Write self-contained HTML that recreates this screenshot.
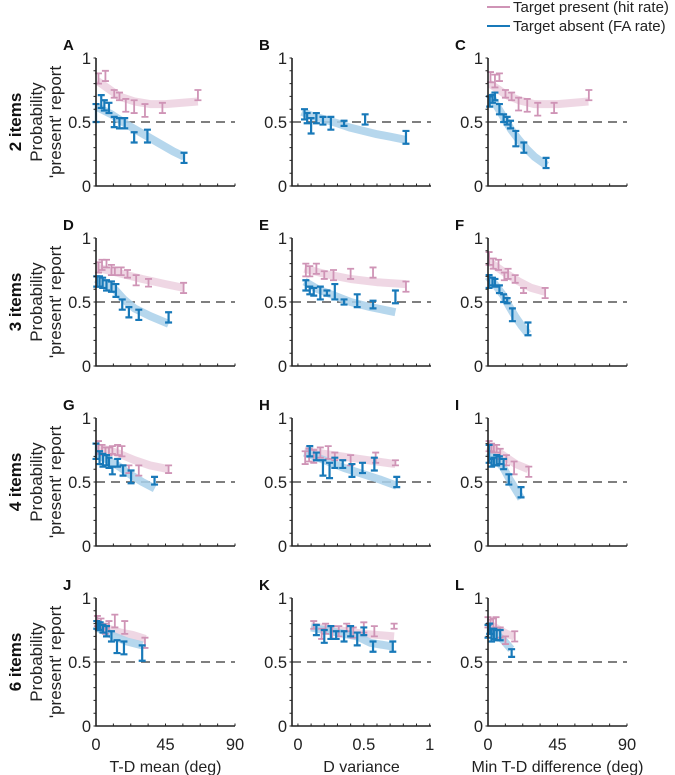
<!DOCTYPE html>
<html><head><meta charset="utf-8">
<style>
body{margin:0;background:#fff;}
svg{display:block;font-family:"Liberation Sans",Arial,sans-serif;}
</style></head>
<body>
<svg id="fig" width="675" height="775" viewBox="0 0 675 775"></svg>
<script>
// ---- data (x, y, error half-widths, fit curves) ----
const A_hit_x=[1.6,6.1,11.8,15.2,19.3,24.7,31.7,43,66];
const A_hit_y=[0.84,0.86,0.72,0.70,0.63,0.62,0.59,0.61,0.71];
const A_hit_e=[0.04,0.04,0.03,0.03,0.05,0.05,0.05,0.04,0.04];
const A_fa_x=[0,3.4,5.4,8.4,11.8,15.2,18.6,24.7,33.3,57];
const A_fa_y=[0.57,0.66,0.63,0.61,0.50,0.49,0.49,0.38,0.39,0.22];
const A_fa_e=[0.07,0.05,0.04,0.04,0.04,0.04,0.04,0.04,0.05,0.04];
const A_hitfit_x=[1,8,15,25,35,45,66];
const A_hitfit_y=[0.82,0.76,0.70,0.66,0.64,0.64,0.66];
const A_fafit_x=[0,10,20,30,40,50,57];
const A_fafit_y=[0.62,0.56,0.48,0.41,0.34,0.27,0.23];

const B_fa_x=[0.05,0.07,0.10,0.14,0.19,0.25,0.35,0.51,0.82];
const B_fa_y=[0.56,0.53,0.47,0.53,0.51,0.49,0.49,0.52,0.38];
const B_fa_e=[0.04,0.04,0.06,0.04,0.03,0.05,0.02,0.04,0.05];
const B_fafit_x=[0.03,0.1,0.2,0.3,0.4,0.5,0.6,0.7,0.82];
const B_fafit_y=[0.58,0.55,0.52,0.49,0.455,0.43,0.405,0.385,0.36];

const C_hit_x=[1.6,4.5,7.4,11.3,15.3,19.8,25.4,32.2,42.8,65.3];
const C_hit_y=[0.85,0.82,0.85,0.72,0.70,0.64,0.63,0.60,0.61,0.71];
const C_hit_e=[0.04,0.05,0.03,0.03,0.03,0.05,0.05,0.05,0.04,0.04];
const C_fa_x=[1.1,2.9,4.5,7.4,10.1,12.4,14.6,18,23.2,37.6];
const C_fa_y=[0.66,0.68,0.70,0.60,0.53,0.51,0.48,0.37,0.30,0.18];
const C_fa_e=[0.04,0.03,0.03,0.04,0.03,0.03,0.03,0.06,0.04,0.04];
const C_hitfit_x=[1,6,12,20,30,45,65];
const C_hitfit_y=[0.80,0.76,0.71,0.67,0.64,0.64,0.66];
const C_fafit_x=[1,5,10,15,20,25,30,38];
const C_fafit_y=[0.72,0.64,0.54,0.44,0.36,0.29,0.23,0.16];

const D_hit_x=[1.6,3.9,6.8,10,12.2,16.3,20.4,26,34,56.7];
const D_hit_y=[0.77,0.79,0.80,0.75,0.74,0.74,0.72,0.67,0.65,0.61];
const D_hit_e=[0.04,0.04,0.03,0.04,0.03,0.03,0.03,0.04,0.03,0.04];
const D_fa_x=[0.5,2.3,4.3,6.8,10,12.9,17,21.3,27.7,47];
const D_fa_y=[0.66,0.66,0.65,0.63,0.62,0.59,0.48,0.42,0.40,0.38];
const D_fa_e=[0.04,0.04,0.04,0.04,0.04,0.05,0.04,0.04,0.04,0.04];
const D_hitfit_x=[0,10,20,30,45,57];
const D_hitfit_y=[0.77,0.74,0.71,0.68,0.64,0.61];
const D_fafit_x=[0,6,12,18,25,35,47];
const D_fafit_y=[0.68,0.64,0.60,0.52,0.45,0.39,0.33];

const E_hit_x=[0.06,0.09,0.14,0.20,0.27,0.40,0.57,0.82];
const E_hit_y=[0.75,0.74,0.76,0.71,0.71,0.72,0.73,0.62];
const E_hit_e=[0.05,0.04,0.04,0.03,0.04,0.04,0.04,0.04];
const E_fa_x=[0.06,0.09,0.12,0.17,0.22,0.28,0.35,0.45,0.57,0.74];
const E_fa_y=[0.63,0.59,0.58,0.57,0.57,0.58,0.50,0.51,0.48,0.54];
const E_fa_e=[0.04,0.03,0.03,0.05,0.02,0.06,0.02,0.05,0.03,0.05];
const E_hitfit_x=[0.05,0.2,0.4,0.6,0.82];
const E_hitfit_y=[0.76,0.72,0.68,0.655,0.64];
const E_fafit_x=[0.05,0.15,0.25,0.4,0.55,0.74];
const E_fafit_y=[0.66,0.60,0.56,0.50,0.46,0.42];

const F_hit_x=[0.7,3.4,6.8,10.6,13,17.6,23,37];
const F_hit_y=[0.84,0.80,0.79,0.70,0.72,0.68,0.59,0.57];
const F_hit_e=[0.05,0.04,0.04,0.03,0.04,0.03,0.02,0.04];
const F_fa_x=[0.7,2.9,4.5,7.4,10.1,12.4,15.8,25.9];
const F_fa_y=[0.66,0.66,0.65,0.60,0.53,0.51,0.40,0.29];
const F_fa_e=[0.05,0.03,0.03,0.03,0.03,0.02,0.05,0.05];
const F_hitfit_x=[0,6,12,20,28,37];
const F_hitfit_y=[0.82,0.77,0.72,0.66,0.61,0.58];
const F_fafit_x=[0,5,10,14,18,22,26];
const F_fafit_y=[0.70,0.63,0.55,0.46,0.38,0.31,0.25];

const G_hit_x=[1.6,3.9,6.1,8.4,10.6,14,16.8,21.3,27.7,47];
const G_hit_y=[0.77,0.75,0.74,0.74,0.75,0.75,0.74,0.60,0.59,0.60];
const G_hit_e=[0.05,0.04,0.03,0.03,0.03,0.04,0.04,0.03,0.04,0.03];
const G_fa_x=[0,2.3,4.5,6.8,8.4,10.6,14,17.5,22.7,37.9];
const G_fa_y=[0.74,0.69,0.67,0.67,0.65,0.59,0.65,0.59,0.54,0.51];
const G_fa_e=[0.06,0.05,0.05,0.04,0.04,0.03,0.03,0.04,0.05,0.03];
const G_hitfit_x=[0,8,15,25,35,47];
const G_hitfit_y=[0.77,0.75,0.72,0.67,0.63,0.60];
const G_fafit_x=[0,8,15,22,30,38];
const G_fafit_y=[0.72,0.67,0.62,0.56,0.50,0.45];

const H_hit_x=[0.055,0.085,0.12,0.17,0.23,0.28,0.40,0.59,0.74];
const H_hit_y=[0.69,0.71,0.70,0.73,0.73,0.70,0.67,0.69,0.65];
const H_hit_e=[0.05,0.05,0.05,0.04,0.05,0.03,0.04,0.04,0.02];
const H_fa_x=[0.09,0.14,0.19,0.24,0.28,0.34,0.41,0.49,0.58,0.75];
const H_fa_y=[0.74,0.70,0.61,0.59,0.65,0.64,0.59,0.61,0.64,0.50];
const H_fa_e=[0.04,0.03,0.06,0.06,0.04,0.03,0.05,0.04,0.05,0.04];
const H_hitfit_x=[0.05,0.2,0.4,0.6,0.74];
const H_hitfit_y=[0.75,0.72,0.69,0.66,0.64];
const H_fafit_x=[0.05,0.2,0.35,0.5,0.62,0.75];
const H_fafit_y=[0.73,0.67,0.61,0.56,0.52,0.47];

const I_hit_x=[0.7,2.3,3.8,5.6,7.9,11.9,16.9,26.4];
const I_hit_y=[0.78,0.77,0.76,0.76,0.72,0.67,0.61,0.58];
const I_hit_e=[0.04,0.03,0.03,0.03,0.04,0.04,0.05,0.04];
const I_fa_x=[0.7,2.3,3.8,5.6,7.4,10.1,13.5,21.4];
const I_fa_y=[0.72,0.65,0.66,0.67,0.67,0.64,0.52,0.42];
const I_fa_e=[0.07,0.03,0.03,0.04,0.03,0.04,0.04,0.04];
const I_hitfit_x=[0,6,12,18,26];
const I_hitfit_y=[0.78,0.74,0.69,0.64,0.60];
const I_fafit_x=[0,5,10,14,18,21.5];
const I_fafit_y=[0.73,0.68,0.61,0.52,0.44,0.37];

const J_hit_x=[0.9,3.2,6.1,8.4,12.2,18.6,31.7];
const J_hit_y=[0.82,0.80,0.76,0.78,0.82,0.77,0.65];
const J_hit_e=[0.04,0.04,0.04,0.04,0.05,0.05,0.04];
const J_fa_x=[0.5,1.6,2.7,4.5,6.8,10,13.6,18.1,29.9];
const J_fa_y=[0.79,0.78,0.78,0.76,0.74,0.70,0.62,0.61,0.57];
const J_fa_e=[0.03,0.03,0.03,0.03,0.04,0.04,0.05,0.05,0.06];
const J_hitfit_x=[0,8,16,24,32];
const J_hitfit_y=[0.78,0.76,0.73,0.71,0.68];
const J_fafit_x=[0,6,12,20,30];
const J_fafit_y=[0.77,0.74,0.70,0.66,0.63];

const K_hit_x=[0.12,0.18,0.21,0.26,0.31,0.37,0.42,0.50,0.58,0.73];
const K_hit_y=[0.79,0.72,0.76,0.73,0.74,0.77,0.73,0.77,0.74,0.78];
const K_hit_e=[0.03,0.04,0.04,0.05,0.04,0.03,0.04,0.04,0.04,0.02];
const K_fa_x=[0.14,0.20,0.25,0.29,0.35,0.40,0.45,0.50,0.57,0.72];
const K_fa_y=[0.75,0.70,0.73,0.71,0.70,0.74,0.68,0.74,0.62,0.62];
const K_fa_e=[0.04,0.05,0.05,0.03,0.04,0.04,0.05,0.03,0.04,0.04];
const K_hitfit_x=[0.1,0.3,0.5,0.73];
const K_hitfit_y=[0.78,0.75,0.72,0.70];
const K_fafit_x=[0.1,0.3,0.45,0.55,0.72];
const K_fafit_y=[0.77,0.73,0.70,0.65,0.62];

const L_hit_x=[0,1.6,3.4,5.2,7.9,11.3,17.3];
const L_hit_y=[0.81,0.79,0.80,0.81,0.73,0.67,0.70];
const L_hit_e=[0.04,0.04,0.04,0.04,0.04,0.03,0.04];
const L_fa_x=[0,1.1,2.3,3.8,5.6,7.9,15.3];
const L_fa_y=[0.74,0.76,0.71,0.72,0.71,0.71,0.57];
const L_fa_e=[0.05,0.04,0.05,0.04,0.04,0.04,0.03];
const L_hitfit_x=[0,6,12,17];
const L_hitfit_y=[0.80,0.76,0.72,0.70];
const L_fafit_x=[0,5,10,15];
const L_fafit_y=[0.75,0.72,0.67,0.60];

const panelLetters=['A','B','C','D','E','F','G','H','I','J','K','L'];
const rowLabels=['2 items','3 items','4 items','6 items'];
const xTitles=['T-D mean (deg)','D variance','Min T-D difference (deg)'];
const degTicks=[0,45,90];
const varTicks=[0,0.5,1];
const yTicks=[0,0.5,1];

const P={
A:{hx:A_hit_x,hy:A_hit_y,he:A_hit_e,fx:A_fa_x,fy:A_fa_y,fe:A_fa_e,hfx:A_hitfit_x,hfy:A_hitfit_y,ffx:A_fafit_x,ffy:A_fafit_y},
B:{fx:B_fa_x,fy:B_fa_y,fe:B_fa_e,ffx:B_fafit_x,ffy:B_fafit_y},
C:{hx:C_hit_x,hy:C_hit_y,he:C_hit_e,fx:C_fa_x,fy:C_fa_y,fe:C_fa_e,hfx:C_hitfit_x,hfy:C_hitfit_y,ffx:C_fafit_x,ffy:C_fafit_y},
D:{hx:D_hit_x,hy:D_hit_y,he:D_hit_e,fx:D_fa_x,fy:D_fa_y,fe:D_fa_e,hfx:D_hitfit_x,hfy:D_hitfit_y,ffx:D_fafit_x,ffy:D_fafit_y},
E:{hx:E_hit_x,hy:E_hit_y,he:E_hit_e,fx:E_fa_x,fy:E_fa_y,fe:E_fa_e,hfx:E_hitfit_x,hfy:E_hitfit_y,ffx:E_fafit_x,ffy:E_fafit_y},
F:{hx:F_hit_x,hy:F_hit_y,he:F_hit_e,fx:F_fa_x,fy:F_fa_y,fe:F_fa_e,hfx:F_hitfit_x,hfy:F_hitfit_y,ffx:F_fafit_x,ffy:F_fafit_y},
G:{hx:G_hit_x,hy:G_hit_y,he:G_hit_e,fx:G_fa_x,fy:G_fa_y,fe:G_fa_e,hfx:G_hitfit_x,hfy:G_hitfit_y,ffx:G_fafit_x,ffy:G_fafit_y},
H:{hx:H_hit_x,hy:H_hit_y,he:H_hit_e,fx:H_fa_x,fy:H_fa_y,fe:H_fa_e,hfx:H_hitfit_x,hfy:H_hitfit_y,ffx:H_fafit_x,ffy:H_fafit_y},
I:{hx:I_hit_x,hy:I_hit_y,he:I_hit_e,fx:I_fa_x,fy:I_fa_y,fe:I_fa_e,hfx:I_hitfit_x,hfy:I_hitfit_y,ffx:I_fafit_x,ffy:I_fafit_y},
J:{hx:J_hit_x,hy:J_hit_y,he:J_hit_e,fx:J_fa_x,fy:J_fa_y,fe:J_fa_e,hfx:J_hitfit_x,hfy:J_hitfit_y,ffx:J_fafit_x,ffy:J_fafit_y},
K:{hx:K_hit_x,hy:K_hit_y,he:K_hit_e,fx:K_fa_x,fy:K_fa_y,fe:K_fa_e,hfx:K_hitfit_x,hfy:K_hitfit_y,ffx:K_fafit_x,ffy:K_fafit_y},
L:{hx:L_hit_x,hy:L_hit_y,he:L_hit_e,fx:L_fa_x,fy:L_fa_y,fe:L_fa_e,hfx:L_hitfit_x,hfy:L_hitfit_y,ffx:L_fafit_x,ffy:L_fafit_y}
};

const NS='http://www.w3.org/2000/svg';
const svg=document.getElementById('fig');
function mk(tag,attrs,parent){const e=document.createElementNS(NS,tag);for(const k in attrs)e.setAttribute(k,attrs[k]);(parent||svg).appendChild(e);return e;}
function txt(s,attrs,parent){const e=mk('text',attrs,parent);e.textContent=s;return e;}

const PINK='#cf94b6', BLUE='#1879b9', PINKBAND='#ecd0df', BLUEBAND='#a9d0ea';
const colX=[96,292,488], axW=139, rowY0=[186,366,546,726], axH=128;

// legend
const lg=mk('g',{});


const l1=mk('line',{x1:487,y1:7,x2:510,y2:7,stroke:PINK,'stroke-width':2},lg);


const t1=txt('Target present (hit rate)',{x:513,y:12,'font-size':15,fill:'#222'},lg);


const l2=mk('line',{x1:487,y1:26,x2:510,y2:26,stroke:BLUE,'stroke-width':2},lg);


const t2=txt('Target absent (FA rate)',{x:513,y:31,'font-size':15,fill:'#222'},lg);



for(let r=0;r<4;r++){
  const cy=rowY0[r]-axH/2;
  const rl=txt(rowLabels[r],{x:0,y:0,'font-size':17,'font-weight':'bold','text-anchor':'middle',transform:`translate(21,${cy}) rotate(-90)`,fill:'#111'});
  
  
  const p1=txt('Probability',{x:0,y:0,'font-size':17,'text-anchor':'middle',transform:`translate(42,${cy}) rotate(-90)`,fill:'#222'});
  
  
  const p2=txt("'present' report",{x:0,y:0,'font-size':17,'text-anchor':'middle',transform:`translate(61,${cy}) rotate(-90)`,fill:'#222'});
  
  
  for(let c=0;c<3;c++){
    const L=panelLetters[r*3+c], d=P[L];
    const x0=colX[c], y0=rowY0[r];
    const isVar=(c===1);
    const xmin=isVar?-0.045:0, xmax=isVar?1.01:90;
    const X=v=>x0+(v-xmin)/(xmax-xmin)*axW;
    const Y=v=>y0-v*axH;
    const g=mk('g',{});
    
    
    const lt=txt(L,{x:x0-33,y:y0-axH-8,'font-size':15,'font-weight':'bold',fill:'#111'},g);
    
    
    const dl=mk('line',{x1:x0,x2:x0+axW,y1:Y(0.5),y2:Y(0.5),stroke:'#555','stroke-width':1.6,'stroke-dasharray':'9,6'},g);
    
    
    function band(xs,ys,col,name){
      let s='';for(let i=0;i<xs.length;i++)s+=(i?'L':'M')+X(xs[i]).toFixed(1)+','+Y(ys[i]).toFixed(1);
      const p=mk('path',{d:s,fill:'none',stroke:col,'stroke-width':8,'stroke-linecap':'butt','stroke-linejoin':'round',opacity:0.85},g);
      
      
    }
    if(d.hfx)band(d.hfx,d.hfy,PINKBAND,'hit-fit-band');
    band(d.ffx,d.ffy,BLUEBAND,'fa-fit-band');
    function bars(xs,ys,es,col,w,name){
      for(let i=0;i<xs.length;i++){
        const x=X(xs[i]),ya=Y(ys[i]-es[i]),yb=Y(ys[i]+es[i]);
        const p=mk('path',{d:`M${x-3.5},${ya}H${x+3.5}M${x},${ya}V${yb}M${x-3.5},${yb}H${x+3.5}`,stroke:col,'stroke-width':w,fill:'none'},g);
        
        
      }
    }
    if(d.hx)bars(d.hx,d.hy,d.he,PINK,1.8,'hit-errorbar');
    bars(d.fx,d.fy,d.fe,BLUE,2.2,'fa-errorbar');
    const ax=mk('path',{d:`M${x0},${y0-axH}V${y0}H${x0+axW}`,stroke:'#222','stroke-width':1.6,fill:'none'},g);
    
    
    let tk='';
    for(let i=0;i<=10;i++){const yy=Y(i/10);tk+=`M${x0},${yy}h-2.5`;}
    const nx=isVar?10:8;
    for(let i=0;i<=nx;i++){const xx=isVar?X(i/10):X(i*90/8);tk+=`M${xx},${y0}v-2.5`;}
    const tp=mk('path',{d:tk,stroke:'#222','stroke-width':1,fill:'none'},g);
    
    
    yTicks.forEach(v=>{
      const t=txt(String(v),{x:x0-5,y:Y(v)+6,'font-size':16.5,'text-anchor':'end',fill:'#222'},g);
      
      
    });
    if(r===3){
      (isVar?varTicks:degTicks).forEach(v=>{
        const t=txt(String(v),{x:X(v),y:y0+24,'font-size':16.5,'text-anchor':'middle',fill:'#222'},g);
        
        
      });
      const xt=txt(xTitles[c],{x:x0+axW/2,y:y0+46,'font-size':16,'text-anchor':'middle',fill:'#222'},g);
      
      
    }
  }
}
</script>
</body></html>
